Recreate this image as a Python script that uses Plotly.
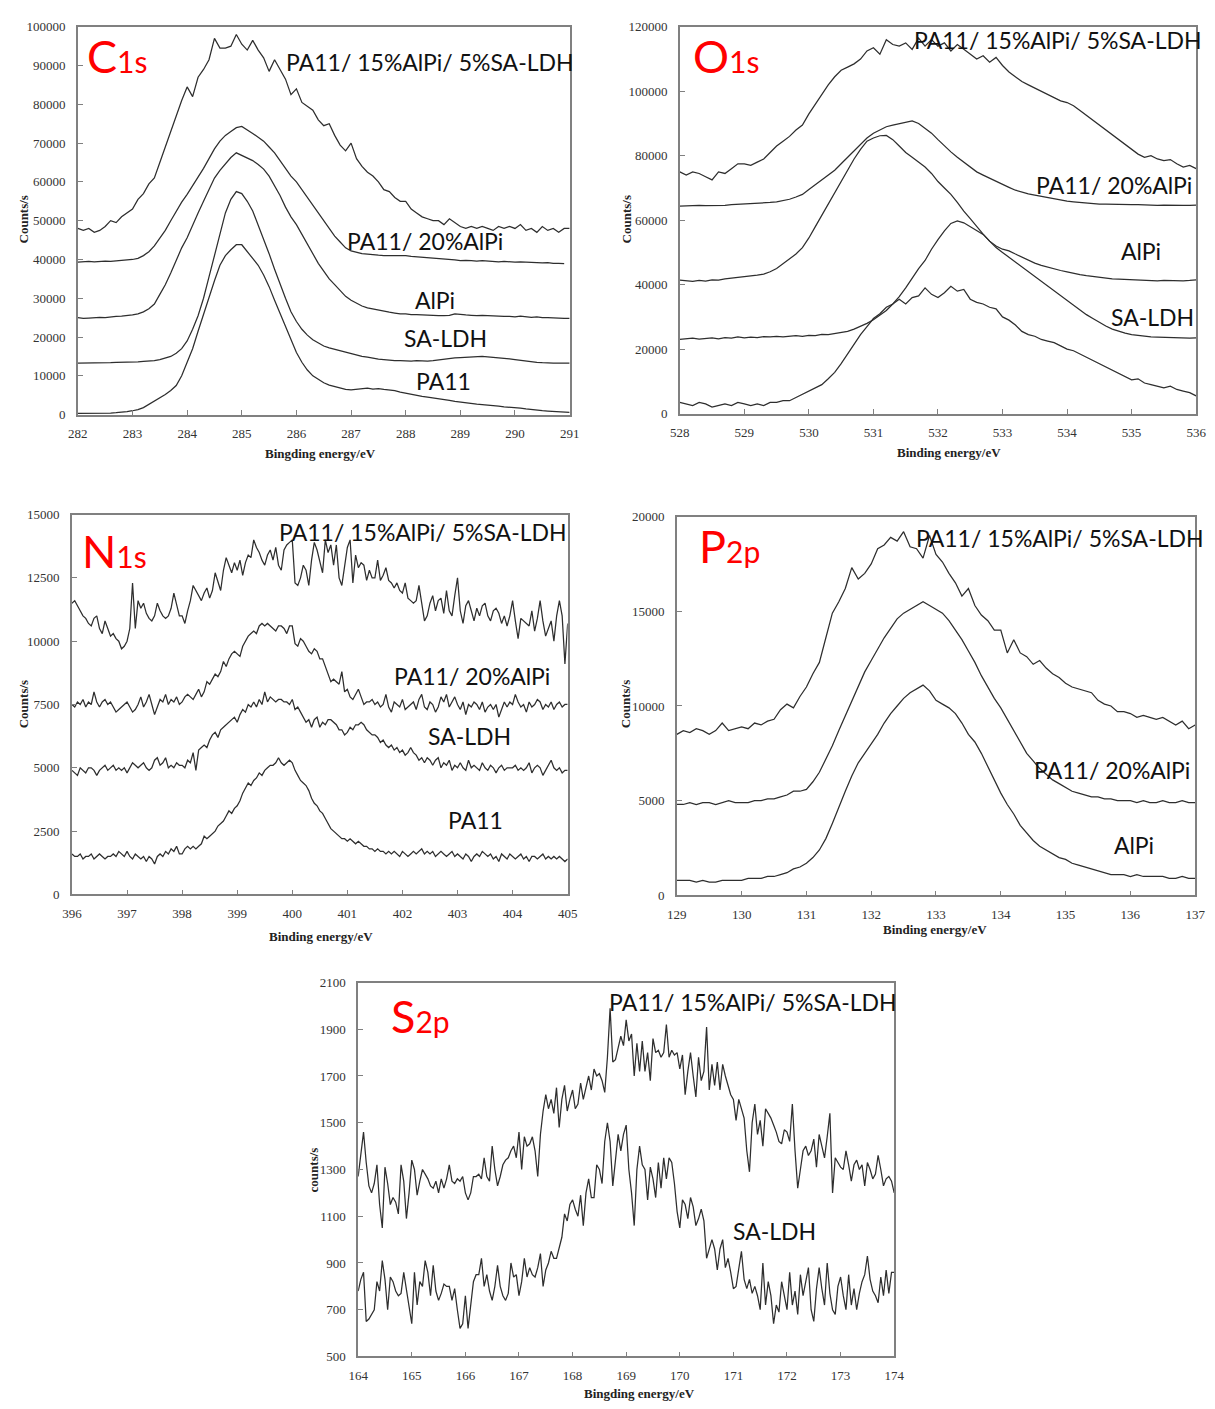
import numpy as np
import plotly.graph_objects as go

W, H = 1215, 1409

# ---------------- C1s (282-291 eV, 0.1 eV step) ----------------
c1s_ternary = [
    48000, 47500, 48000, 47000, 47500, 48500, 50000, 49500, 51000, 52000,
    53000, 55500, 57000, 59500, 61000, 65000, 69000, 73000, 77500, 81000,
    84500, 82000, 87000, 89000, 91500, 97000, 94500, 94500, 95000, 98000,
    95500, 94000, 96500, 94000, 92000, 88500, 91500, 89000, 86500, 82500,
    84000, 80500, 79500, 78500, 76000, 74500, 75000, 72000, 69500, 68000,
    70000, 66000, 64000, 62500, 61500, 60000, 58000, 57500, 56000, 55000,
    55000, 53000, 52000, 51000, 50500, 50000, 50000, 49000, 50500, 49500,
    48500, 48000, 48500, 48000, 48500, 48000, 47500, 48500, 48000, 48500,
    48000, 49000, 47500, 48000, 47000, 48500, 47500, 48000, 47000, 48000,
    48000]
c1s_alpi20 = [
    39300, 39400, 39500, 39400, 39500, 39600, 39500, 39700, 39800, 39900,
    40000, 40300, 41000, 42000, 43500, 45500, 47500, 50000, 52500, 54800,
    56800, 59000, 61500, 63500, 66000, 68500, 70500, 72000, 73000, 74000,
    74300, 73500, 72500, 71500, 70500, 69000, 67500, 65500, 63500, 61500,
    60000, 58000, 56000, 54000, 52000, 50000, 48000, 46000, 44500, 43000,
    42200, 41800, 41500, 41400, 41200, 41100, 41000, 41000, 40900, 41000,
    41000, 40800, 40700, 40500, 40400, 40300, 40200, 40100, 40000, 39900,
    39700, 39800, 39700, 39600, 39700, 39600, 39500, 39400, 39500, 39400,
    39300, 39400, 39300, 39200, 39200, 39100, 39200, 39000, 39000, 38900,
    None]
c1s_alpi = [
    25000, 24800, 24900, 25000, 25100, 25000, 25200, 25300, 25400, 25500,
    25700, 26000, 26500, 27300, 28500, 31000, 33500, 36500, 40000, 43000,
    45600, 49000, 52000, 55000, 58000, 61000, 63000, 64800, 66300, 67500,
    66800, 66000, 65500, 64500, 63300, 61500, 59000, 56500, 53500, 51000,
    49000, 46500, 44000, 41500, 39000, 37000, 35000, 33500, 32000, 30500,
    29500, 28700, 28000, 27500, 27200, 27000, 26600, 26400, 26200, 26000,
    26000, 25800, 25800, 25700, 25700, 25600, 25500, 25500, 25600, 26000,
    25800, 25700, 25600, 25500, 25600, 25500, 25400, 25400, 25300, 25300,
    25200, 25400, 25200, 25100, 25200, 25000, 25000, 24900, 24900, 24800,
    24800]
c1s_saldh = [
    13300, 13300, 13300, 13400, 13300, 13400, 13400, 13500, 13500, 13500,
    13600, 13600, 13700, 13800, 13900, 14200, 14600, 15000, 15800, 17000,
    19000, 22000, 25500, 30000, 35500, 41000, 46500, 52000, 55500, 57500,
    57000, 55000, 52500, 49000, 45500, 41500, 37500, 33500, 30000, 26500,
    24000, 22000, 20500, 19300, 18500, 17700, 17200, 16800, 16400, 16000,
    15700, 15300, 15000, 14800, 14500, 14300, 14200, 14000, 13900, 13900,
    13800, 13800, 13900, 13800, 13800, 13900, 14100, 14300, 14500, 14600,
    14700, 14800, 14900, 14900, 15000, 14900, 14800, 14700, 14500, 14400,
    14200, 14000, 13800, 13700, 13500, 13400, 13300, 13300, 13300, 13300,
    13300]
c1s_pa11 = [
    300, 300, 300, 300, 300, 400, 400, 500, 600, 800,
    1000, 1300, 1800, 2600, 3500, 4300, 5200, 6200, 7500, 10000,
    13300, 17000, 21500, 26000, 30500, 34500, 38500, 41000, 42500, 43800,
    43800, 42000, 40000, 38500, 36000, 33000, 29500, 26000, 22500, 19000,
    16000, 13500, 11500, 10000, 9000, 8200, 7600, 7200, 6800, 6500,
    6400, 6500, 6700, 6800, 6600, 6700, 6500, 6400, 6200, 5800,
    5500, 5200, 5000, 4700, 4500, 4300, 4100, 4000, 3700, 3400,
    3200, 3000, 2900, 2700, 2600, 2500, 2300, 2200, 2000, 1900,
    1900, 1700, 1500, 1300, 1100, 1000, 900, 800, 700, 700,
    600]

# ---------------- O1s (528-536 eV, 0.1 eV step) ----------------
o1s_ternary = [
    75000, 74000, 75000, 74500, 73500, 72500, 75000, 74500, 76000, 77500,
    77500, 77000, 78000, 79000, 81000, 83000, 84500, 86000, 88000, 89500,
    93000, 96000, 99000, 102000, 104500, 106500, 107500, 108500, 110000, 112500,
    113500, 111500, 116000, 114500, 114000, 115000, 113000, 116500, 114000, 116000,
    114000, 115000, 112500, 114500, 113000, 111500, 110000, 111000, 109000, 110500,
    108000, 106000, 104500, 103000, 102000, 101000, 100000, 99000, 98000, 97000,
    96500, 95500, 94000, 92500, 91000, 89500, 88000, 86500, 85000, 83500,
    82000, 80500, 79500, 80000, 79000, 78500, 78800, 77500, 76500, 77000,
    76000]
o1s_alpi20 = [
    64400, 64500, 64400, 64600, 64500, 64500, 64700, 64600, 64800, 64900,
    65000, 65000, 65200, 65300, 65500, 65700, 66000, 66500, 67200, 68000,
    69500, 71000, 72500, 74000, 75500, 77500, 79500, 81500, 83500, 85500,
    87000, 88000, 89000, 89500, 90000, 90500, 90800, 90000, 88500, 87000,
    85000, 83000, 81200, 79500, 78000, 76500, 75000, 74000, 73000, 72000,
    71200, 70200, 69300, 68700, 68200, 67800, 67400, 67000, 66600, 66200,
    65900, 65700, 65500, 65300, 65200, 65000, 65000, 64900, 64800, 64900,
    64800, 64800, 64700, 64800, 64600, 64700, 64600, 64500, 64600, 64600,
    64700]
o1s_alpi = [
    41400, 41200, 41000, 41300, 41100, 41500, 41400, 41800, 42000, 42200,
    42400, 42600, 43000, 43300, 44000, 45000, 46500, 48000, 49500, 51500,
    54500, 58000, 61500, 65000, 68500, 72000, 75500, 79000, 82000, 84500,
    85500, 86200, 86300, 85000, 83000, 81000, 79500, 78000, 76500, 74500,
    72000, 70000, 68000, 65500, 62800, 60500, 58000, 55700, 53500, 52000,
    51000, 50500, 49500, 48500, 47500, 46700, 46000, 45400, 44800, 44400,
    44000, 43500, 43100, 42800, 42500, 42200, 42000, 41800, 41700, 41600,
    41500, 41400, 41300, 41300, 41200, 41300, 41200, 41100, 41200, 41300,
    41500]
o1s_saldh = [
    23000, 23200, 23400, 23100, 23300, 23500, 23200, 23600, 23400, 23800,
    23500, 23700, 23600, 23900, 23800, 24000, 23800, 24100, 24200, 24000,
    24300, 24200, 24600, 24500, 24800, 25000, 25500, 26200, 27000, 28000,
    29100, 30500, 32000, 34000, 36300, 39000, 42000, 45000, 47500, 51000,
    54000, 56700, 59000, 59800, 59200, 58000, 56800, 55600, 53500, 51500,
    50000, 48500, 47000, 45500, 44000, 42500, 41000, 39500, 38000, 36500,
    35000, 33500, 32000, 30700, 29500, 28300, 27200, 26200, 25500, 25000,
    24500, 24200, 24000, 23800, 23700, 23600, 23500, 23400, 23500, 23400,
    23500]
o1s_pa11 = [
    3500, 3000, 2500, 3500, 3000, 2000, 2500, 3000, 2500, 3500,
    3000, 2500, 3000, 2500, 3500, 3500, 4000, 4000, 5000, 6000,
    7000, 8000, 9000, 10800, 12800, 15500, 18500, 21500, 24500, 27000,
    29500, 31000, 33000, 34000, 35500, 34000, 36000, 36500, 39000, 37000,
    36000, 37500, 39500, 38000, 38500, 35500, 34500, 34000, 33000, 32500,
    30000, 29000, 27500, 25500, 24500, 24000, 23000, 22500, 22000, 21000,
    20000, 19500, 18500, 17500, 16500, 15500, 14500, 13500, 12500, 11500,
    10500, 10800, 9500, 9000, 8500, 8000, 8500, 7500, 7000, 6500,
    5500]

# ---------------- N1s (396-405 eV, 0.05 eV step) ----------------
n1s_ternary = [
    11500, 11600, 11400, 11200, 11000, 10900, 10700, 10600, 10900, 11000, 10500, 10300, 10800, 10500, 10200, 10300, 10100, 10000, 9700, 9800,
    10000, 10500, 12300, 10500, 11600, 11300, 11500, 11100, 10900, 10800, 11000, 11500, 11200, 11000, 10900, 11000, 11300, 11900, 11500, 11000,
    11000, 10700, 11200, 11600, 12200, 12000, 11800, 11600, 11900, 12100, 11700, 12000, 12700, 12300, 12000, 12800, 13300, 13000, 12700, 13100,
    12800, 13200, 12600, 13100, 13400, 13300, 14000, 13700, 13500, 13200, 13000, 13400, 13600, 13200, 13700, 13000, 12800, 13600, 13800, 13900,
    14000, 12300, 12200, 12500, 13000, 12800, 12200, 13200, 13900, 13600, 13200, 12700, 14000, 13500, 13800, 13000, 13800, 12500, 12200, 13000,
    13700, 14000, 12300, 13400, 12900, 13100, 13000, 12400, 12800, 12500, 12500, 13200, 12400, 12600, 12900, 12400, 12300, 12100, 12300, 12000,
    11900, 12300, 11700, 11600, 11500, 11600, 12200, 11500, 10800, 11000, 11500, 11800, 11200, 11600, 11700, 11100, 12000, 11200, 11000, 11800,
    12500, 11200, 10700, 11400, 11600, 11200, 10800, 11300, 11000, 11400, 11500, 11000, 10800, 11200, 11300, 11100, 10700, 11000, 10600, 11000,
    11600, 10800, 10100, 10900, 10800, 10700, 10600, 11200, 10400, 10900, 11600, 10800, 10200, 10500, 10800, 10000, 11000, 11600, 11000, 9100,
    10700]
n1s_alpi20 = [
    7500, 7400, 7600, 7500, 7700, 7400, 7600, 7500, 8000, 7600, 7400, 7600, 7700, 7500, 7600, 7400, 7200, 7300, 7400, 7500,
    7600, 7400, 7200, 7300, 7500, 7800, 7400, 7600, 7900, 7500, 7100, 7400, 7700, 7600, 7900, 7500, 7700, 7600, 7800, 7500,
    7600, 7800, 7900, 7800, 7700, 7900, 8100, 7800, 8000, 8400, 8300, 8500, 8700, 8600, 8800, 9200, 9000, 9300, 9500, 9600,
    9500, 9400, 9800, 10000, 10200, 10300, 10400, 10300, 10600, 10700, 10600, 10700, 10600, 10500, 10400, 10600, 10600, 10500, 10300, 10600,
    10600, 9900, 9800, 10100, 10000, 9800, 9600, 9500, 9700, 9600, 9300, 9300, 9000, 8700, 8400, 8500, 8400, 8300, 8800, 8000,
    8100, 7800, 7700, 7900, 8100, 7800, 7500, 7600, 7600, 7700, 7500, 7600, 7400, 7500, 7900, 7400, 7200, 7600, 7500, 7400,
    7700, 7300, 7400, 7500, 7600, 7300, 7700, 7900, 7400, 7300, 7600, 7500, 7200, 7400, 7800, 7600, 7900, 7400, 7600, 7800,
    7500, 7300, 7600, 7100, 7500, 7400, 7600, 7500, 7300, 7600, 7200, 7400, 7500, 7300, 7500, 7000, 7300, 7600, 7400, 7600,
    7500, 7900, 7600, 7400, 7500, 7200, 7600, 7400, 7500, 7700, 7600, 7300, 7500, 7400, 7600, 7300, 7500, 7600, 7400, 7500,
    7500]
n1s_saldh = [
    4900, 4800, 4700, 5000, 4900, 4800, 5000, 5000, 4900, 4700, 4900, 5000, 5100, 4900, 5000, 5100, 4900, 5000, 4900, 5000,
    4800, 5000, 5200, 5100, 5000, 5100, 5200, 5000, 4900, 5000, 5300, 5400, 5100, 5200, 5400, 5000, 5100, 5000, 5200, 5100,
    5100, 5000, 5300, 5200, 5600, 4900, 5700, 5800, 5900, 5800, 6100, 6300, 6400, 6200, 6500, 6600, 6700, 6800, 6900, 7000,
    6800, 7100, 7300, 7200, 7500, 7400, 7600, 7400, 7700, 7500, 8000, 7600, 7800, 7700, 7600, 7700, 7700, 7600, 7600, 7500,
    7700, 7300, 7400, 7200, 7000, 6800, 6900, 6600, 6900, 7000, 6600, 6800, 6700, 6900, 6900, 6800, 6700, 6500, 6500, 6300,
    6400, 6600, 6500, 6700, 6700, 6800, 6700, 6500, 6400, 6300, 6300, 6200, 6000, 6100, 5900, 5800, 5900, 5700, 5800, 5600,
    5700, 5500, 5600, 5800, 5600, 5500, 5300, 5400, 5200, 5400, 5300, 5100, 5300, 5400, 5000, 5200, 5100, 5300, 4900, 5100,
    5000, 5200, 5000, 4900, 5300, 5000, 5100, 5000, 4900, 5200, 5000, 4900, 5100, 5000, 4800, 5000, 5100, 4900, 5000, 5000,
    5000, 5100, 4900, 5000, 4900, 5000, 5200, 4800, 5000, 5100, 5000, 4700, 4900, 5100, 5300, 5000, 4900, 5000, 4800, 4900,
    4900]
n1s_pa11 = [
    1600, 1500, 1500, 1600, 1400, 1500, 1500, 1600, 1400, 1500, 1600, 1500, 1400, 1500, 1500, 1600, 1500, 1700, 1600, 1500,
    1700, 1500, 1400, 1600, 1500, 1400, 1500, 1300, 1500, 1400, 1200, 1500, 1600, 1500, 1700, 1600, 1800, 1700, 1900, 1600,
    1600, 1800, 1900, 1800, 1900, 1800, 1900, 2000, 2300, 2200, 2300, 2400, 2500, 2700, 2800, 2900, 3100, 3300, 3200, 3400,
    3500, 3700, 4000, 4200, 4400, 4300, 4500, 4600, 4800, 4700, 4900, 5000, 5100, 5100, 5200, 5400, 5200, 5100, 5200, 5300,
    5200, 4900, 4700, 4500, 4400, 4300, 4100, 3800, 3600, 3500, 3300, 3200, 3000, 2800, 2600, 2500, 2400, 2300, 2200, 2200,
    2100, 2200, 2100, 2000, 2100, 2000, 1900, 1900, 1800, 1800, 1700, 1800, 1700, 1700, 1600, 1700, 1600, 1700, 1600, 1500,
    1700, 1600, 1500, 1600, 1700, 1600, 1700, 1800, 1600, 1700, 1600, 1700, 1500, 1600, 1700, 1600, 1500, 1600, 1700, 1500,
    1600, 1500, 1400, 1600, 1500, 1300, 1500, 1600, 1500, 1700, 1600, 1500, 1600, 1400, 1500, 1300, 1600, 1500, 1400, 1600,
    1500, 1400, 1500, 1600, 1400, 1500, 1300, 1500, 1500, 1400, 1500, 1600, 1400, 1500, 1400, 1500, 1400, 1500, 1400, 1300,
    1400]

# ---------------- P2p (129-137 eV, 0.1 eV step) ----------------
p2p_ternary = [
    8500, 8700, 8600, 8800, 8700, 8500, 8700, 9100, 8700, 8800,
    8900, 8800, 9100, 9000, 9200, 9300, 9800, 10100, 9900, 10500,
    11000, 11700, 12300, 13600, 14900, 15500, 16200, 17300, 16700, 17000,
    17500, 18300, 18500, 18900, 18700, 19200, 18400, 18300, 17800, 19000,
    18000, 17600, 17000, 16500, 15800, 16200, 15300, 14800, 14500, 14000,
    14000, 12800, 13500, 12800, 12600, 12200, 12400, 12000, 11700, 11500,
    11200, 11000, 10900, 10800, 10700, 10300, 10100, 10000, 9700, 9700,
    9600, 9400, 9500, 9400, 9300, 9400, 9200, 9000, 9200, 8800,
    9000]
p2p_alpi20 = [
    4800, 4800, 4900, 4800, 4900, 4900, 4800, 4900, 5000, 4900,
    4900, 4900, 5000, 5000, 5100, 5100, 5200, 5300, 5500, 5500,
    5600, 6000, 6500, 7200, 7900, 8700, 9500, 10300, 11100, 11800,
    12400, 13000, 13600, 14100, 14600, 14900, 15100, 15300, 15500, 15300,
    15100, 14900, 14500, 14000, 13500, 12900, 12300, 11600, 11000, 10400,
    9900, 9300, 8700, 8100, 7500, 7100, 6700, 6400, 6100, 5900,
    5700, 5500, 5400, 5300, 5200, 5200, 5100, 5100, 5000, 5000,
    5000, 4900, 5000, 4900, 4900, 5000, 4900, 4900, 5000, 4900,
    4900]
p2p_alpi = [
    800, 800, 800, 700, 800, 700, 700, 800, 800, 800,
    800, 900, 900, 900, 1000, 1000, 1100, 1200, 1400, 1500,
    1700, 2000, 2400, 3000, 3800, 4700, 5500, 6300, 7000, 7500,
    8000, 8500, 9100, 9600, 10000, 10400, 10700, 10900, 11100, 10800,
    10300, 10100, 9900, 9600, 9100, 8500, 8100, 7500, 6800, 6100,
    5400, 4800, 4300, 3700, 3300, 2900, 2600, 2400, 2200, 2000,
    1900, 1700, 1600, 1500, 1400, 1300, 1200, 1100, 1100, 1100,
    1000, 1100, 1000, 1000, 1000, 1000, 900, 900, 1000, 900,
    900]

# ---------------- S2p (164-174 eV, 0.05 eV step) ----------------
s2p_ternary = [
    1270, 1380, 1460, 1330, 1230, 1200, 1240, 1320, 1150, 1050, 1310, 1240, 1150, 1180, 1160, 1110, 1320, 1250, 1090, 1200,
    1340, 1300, 1190, 1250, 1300, 1280, 1260, 1230, 1220, 1250, 1200, 1260, 1220, 1260, 1320, 1250, 1240, 1260, 1250, 1270,
    1200, 1170, 1200, 1270, 1270, 1280, 1260, 1350, 1270, 1250, 1400, 1300, 1230, 1270, 1320, 1340, 1350, 1380, 1400, 1350,
    1460, 1300, 1440, 1400, 1410, 1440, 1380, 1270, 1450, 1550, 1620, 1560, 1600, 1540, 1650, 1480, 1600, 1660, 1550, 1600,
    1640, 1560, 1580, 1670, 1600, 1650, 1700, 1640, 1730, 1700, 1710, 1680, 1630, 1780, 1990, 1760, 1770, 1820, 1870, 1830,
    1940, 1850, 1880, 1700, 1840, 1720, 1850, 1720, 1800, 1680, 1860, 1800, 1810, 1780, 1800, 1920, 1780, 1810, 1790, 1800,
    1730, 1790, 1620, 1720, 1800, 1700, 1610, 1780, 1680, 1720, 1910, 1640, 1750, 1660, 1760, 1640, 1750, 1700, 1660, 1620,
    1600, 1510, 1600, 1560, 1520, 1380, 1290, 1500, 1580, 1450, 1510, 1400, 1560, 1540, 1520, 1490, 1460, 1420, 1410, 1470,
    1460, 1420, 1580, 1380, 1220, 1300, 1380, 1400, 1360, 1380, 1430, 1310, 1450, 1400, 1350, 1440, 1540, 1200, 1350, 1330,
    1310, 1300, 1380, 1320, 1250, 1320, 1340, 1300, 1320, 1230, 1330, 1300, 1260, 1280, 1360, 1300, 1230, 1260, 1270, 1250,
    1200]
s2p_saldh = [
    780, 830, 860, 650, 660, 680, 700, 820, 780, 910, 830, 700, 840, 820, 780, 760, 770, 860, 780, 700,
    640, 860, 720, 820, 800, 910, 860, 760, 890, 780, 740, 770, 810, 800, 800, 740, 790, 700, 620, 640,
    760, 620, 710, 820, 850, 850, 920, 800, 850, 780, 740, 800, 890, 800, 760, 740, 770, 900, 840, 850,
    760, 820, 920, 840, 880, 850, 840, 880, 940, 800, 870, 900, 950, 920, 920, 960, 1010, 1110, 1080, 1150,
    1170, 1130, 1100, 1190, 1060, 1200, 1260, 1180, 1180, 1320, 1300, 1240, 1420, 1500, 1420, 1230, 1330, 1450, 1380, 1450,
    1490, 1300, 1200, 1060, 1300, 1400, 1320, 1300, 1170, 1310, 1260, 1180, 1330, 1220, 1350, 1260, 1350, 1330, 1240, 1120,
    1050, 1170, 1150, 1090, 1180, 1140, 1060, 1090, 1130, 1080, 920, 960, 1000, 960, 870, 960, 1000, 880, 920, 860,
    790, 800, 880, 950, 830, 790, 830, 770, 800, 760, 700, 900, 720, 820, 760, 640, 720, 690, 820, 760,
    700, 860, 720, 780, 680, 850, 760, 820, 880, 700, 650, 790, 880, 790, 720, 900, 770, 700, 680, 800,
    840, 760, 700, 850, 720, 790, 700, 770, 820, 850, 930, 830, 780, 760, 730, 840, 760, 870, 770, 860,
    860]

LINE = dict(color="#2e2e2e", width=1.25)


def grid(lo, hi, vals):
    return np.linspace(lo, hi, len(vals))


panels = [
    ("", 282, 291, [c1s_ternary, c1s_alpi20, c1s_alpi, c1s_saldh, c1s_pa11]),
    ("2", 528, 536, [o1s_ternary, o1s_alpi20, o1s_alpi, o1s_saldh, o1s_pa11]),
    ("3", 396, 405, [n1s_ternary, n1s_alpi20, n1s_saldh, n1s_pa11]),
    ("4", 129, 137, [p2p_ternary, p2p_alpi20, p2p_alpi]),
    ("5", 164, 174, [s2p_ternary, s2p_saldh]),
]

fig = go.Figure()
for suf, lo, hi, series in panels:
    for s in series:
        fig.add_trace(go.Scatter(x=grid(lo, hi, s), y=s, mode="lines", line=LINE,
                                 xaxis="x" + suf, yaxis="y" + suf,
                                 hoverinfo="skip", showlegend=False,
                                 connectgaps=False))


def px_x(p):
    return p / W


def px_y(p):
    return 1 - p / H


FRAME = "#808080"
TICKFONT = dict(family="Liberation Serif, Times New Roman, serif", size=13, color="#333333")


def xaxis(l, r, anchor, lo, hi):
    return dict(domain=[px_x(l), px_x(r)], range=[lo, hi], anchor=anchor, dtick=1,
                tick0=lo, showline=True, linecolor=FRAME, linewidth=1.5, mirror=True,
                ticks="inside", ticklen=5, tickcolor=FRAME, tickwidth=1.2,
                showgrid=False, zeroline=False, tickfont=TICKFONT,
                ticklabelstandoff=6, fixedrange=True)


def yaxis(t, b, anchor, lo, hi, dt):
    return dict(domain=[px_y(b), px_y(t)], range=[lo, hi], anchor=anchor, dtick=dt,
                tick0=lo, tickformat="d", showline=True, linecolor=FRAME, linewidth=1.5,
                mirror=True, ticks="inside", ticklen=5, tickcolor=FRAME, tickwidth=1.2,
                showgrid=False, zeroline=False, tickfont=TICKFONT,
                ticklabelstandoff=8, fixedrange=True)


fig.update_layout(
    width=W, height=H, margin=dict(l=0, r=0, t=0, b=0),
    paper_bgcolor="white", plot_bgcolor="white", showlegend=False,
    xaxis=xaxis(69, 569, "y", 282, 291),
    yaxis=yaxis(20, 412, "x", 0, 100000, 10000),
    xaxis2=xaxis(681, 1206, "y2", 528, 536),
    yaxis2=yaxis(20, 411, "x2", 0, 120000, 20000),
    xaxis3=xaxis(63, 567, "y3", 396, 405),
    yaxis3=yaxis(513, 897, "x3", 0, 15000, 2500),
    xaxis4=xaxis(678, 1205, "y4", 129, 137),
    yaxis4=yaxis(515, 898, "x4", 0, 20000, 5000),
    xaxis5=xaxis(354, 899, "y5", 164, 174),
    yaxis5=yaxis(986, 1364, "x5", 500, 2100, 200),
)

LABEL_FONT = dict(family="Lato, Carlito, Calibri, sans-serif", size=23, color="#111111")
TITLE_FONT = dict(family="Liberation Serif, Times New Roman, serif", size=13, color="#222222")
ann = []


def label(text, x, y, font=LABEL_FONT, xanchor="left", angle=0):
    ann.append(dict(text=text, x=px_x(x), y=px_y(y), xref="paper", yref="paper",
                    xanchor=xanchor, yanchor="middle", showarrow=False, font=font,
                    textangle=angle))


def elem(big, small, x, y):
    txt = ('<span style="font-size:45px">%s</span>'
           '<span style="font-size:30px">%s</span>' % (big, small))
    label(txt, x, y, font=dict(family="Lato, Carlito, sans-serif", size=45, color="#ff0000"))


# C1s
elem("C", "1s", 76, 50)
label("PA11/ 15%AlPi/ 5%SA-LDH", 279, 56)
label("PA11/ 20%AlPi", 341, 237)
label("AlPi", 410, 296)
label("SA-LDH", 399, 335)
label("PA11", 411, 378)
# O1s
elem("O", "1s", 692, 50)
label("PA11/ 15%AlPi/ 5%SA-LDH", 917, 33)
label("PA11/ 20%AlPi", 1041, 180)
label("AlPi", 1128, 247)
label("SA-LDH", 1117, 313)
# N1s
elem("N", "1s", 71, 550)
label("PA11/ 15%AlPi/ 5%SA-LDH", 271, 531)
label("PA11/ 20%AlPi", 388, 676)
label("SA-LDH", 423, 737)
label("PA11", 443, 822)
# P2p
elem("P", "2p", 699, 545)
label("PA11/ 15%AlPi/ 5%SA-LDH", 919, 537)
label("PA11/ 20%AlPi", 1039, 771)
label("AlPi", 1120, 847)
# S2p
elem("S", "2p", 385, 1020)
label("PA11/ 15%AlPi/ 5%SA-LDH", 607, 1006)
label("SA-LDH", 733, 1237)

# axis titles
B = lambda s: "<b>%s</b>" % s
label(B("Bingding energy/eV"), 316, 451, font=TITLE_FONT, xanchor="center")
label(B("Counts/s"), 14, 215, font=TITLE_FONT, xanchor="center", angle=-90)
label(B("Binding energy/eV"), 955, 450, font=TITLE_FONT, xanchor="center")
label(B("Counts/s"), 627, 215, font=TITLE_FONT, xanchor="center", angle=-90)
label(B("Binding energy/eV"), 316, 940, font=TITLE_FONT, xanchor="center")
label(B("Counts/s"), 14, 705, font=TITLE_FONT, xanchor="center", angle=-90)
label(B("Binding energy/eV"), 940, 932, font=TITLE_FONT, xanchor="center")
label(B("Counts/s"), 626, 705, font=TITLE_FONT, xanchor="center", angle=-90)
label(B("Bingding energy/eV"), 640, 1401, font=TITLE_FONT, xanchor="center")
label(B("counts/s"), 309, 1175, font=TITLE_FONT, xanchor="center", angle=-90)

fig.update_layout(annotations=ann)
fig.write_html(
    "out.html",
    config={"displayModeBar": False},
    post_script="document.body.style.margin='0';document.body.style.padding='0';"
                "document.documentElement.style.overflow='hidden';",
)
